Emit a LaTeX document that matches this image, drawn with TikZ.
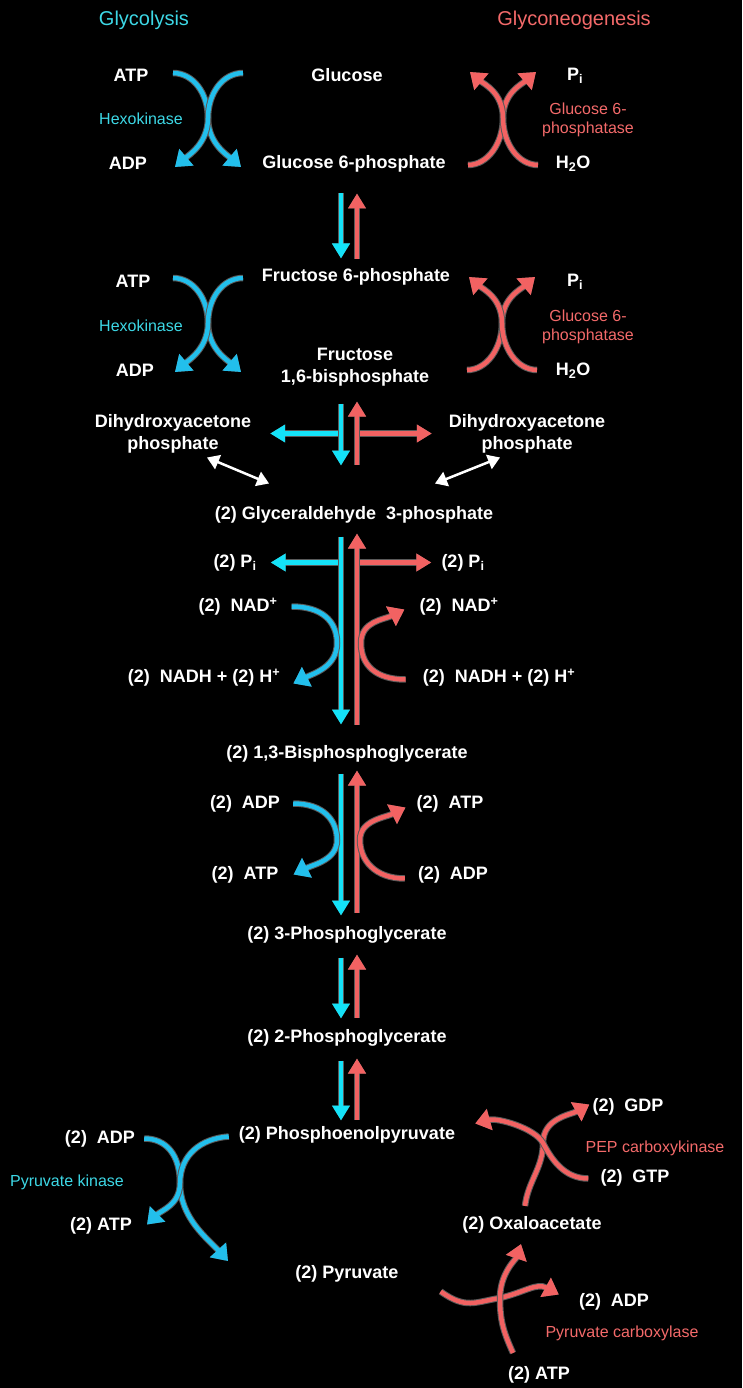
\documentclass[tikz,border=0pt]{standalone}
\usepackage{fontspec}
\setmainfont{Liberation Sans}
\usetikzlibrary{arrows.meta, calc, positioning}
\definecolor{glyc}{HTML}{3DD8E6}
\definecolor{neo}{HTML}{F46A6A}
\definecolor{glyline}{HTML}{14E2F8}
\definecolor{glyarcc}{HTML}{22BFEC}
\definecolor{neoline}{HTML}{F26262}
\tikzset{
  met/.style = {text=white, font=\bfseries\fontsize{18}{22}\selectfont, align=center, inner sep=1pt, yshift=-1.5pt},
  enzg/.style = {text=glyc, font=\fontsize{16}{18.5}\selectfont, align=center, inner sep=1pt},
  enzn/.style = {text=neo, font=\fontsize{16}{18.5}\selectfont, align=center, inner sep=1pt},
  ttl/.style = {font=\fontsize{20}{24}\selectfont, inner sep=1pt},
  halo/.style = {preaction={draw=white!35!black, line width=6.5pt}},
  glyarc/.style = {halo, draw=glyarcc, line width=4.5pt, -{Triangle[width=21pt,length=15pt]}},
  neoarc/.style = {halo, draw=neoline, line width=4.5pt, -{Triangle[width=21pt,length=15pt]}},
  glystem/.style = {halo, draw=glyline, line width=4.5pt, -{Triangle[width=17pt,length=15pt]}},
  neostem/.style = {halo, draw=neoline, line width=4.5pt, -{Triangle[width=17pt,length=15pt]}},
  iso/.style = {draw=white, line width=2.5pt, {Triangle[width=15pt,length=12pt]}-{Triangle[width=15pt,length=12pt]}}
}

\begin{document}
\begin{tikzpicture}[x=1pt, y=-1pt]
  \fill[black] (0,0) rectangle (742,1388);
  \useasboundingbox (0,0) rectangle (742,1388);

  \node[ttl, text=glyc] (glycolysis) at (144,20) {Glycolysis};
  \node[ttl, text=neo] (gneo) at (574,20) {Glyconeogenesis};

  % main column
  \path (347,74) node[met] (glc) {Glucose}
      ++(7,88) node[met] (g6p) {Glucose 6-phosphate}
      ++(2,113) node[met] (f6p) {Fructose 6-phosphate}
      ++(-1,91) node[met] (fbp) {Fructose\\1,6-bisphosphate}
      ++(-1,147) node[met] (gap) {(2) Glyceraldehyde\ \ 3-phosphate}
      ++(-7,239) node[met] (bpg) {(2) 1,3-Bisphosphoglycerate}
      ++(0,181) node[met] (pga3) {(2) 3-Phosphoglycerate}
      ++(0,103) node[met] (pga2) {(2) 2-Phosphoglycerate}
      ++(0,97) node[met] (pep) {(2) Phosphoenolpyruvate}
      ++(0,139) node[met] (pyr) {(2) Pyruvate};

  % cofactors
  \node[met] (atp1) at (131,74) {ATP};
  \node[met] (adp1) at (128,162) {ADP};
  \node[met] (pi1) at (575,74) {P\textsubscript{i}};
  \node[met] (hwo1) at (573,162) {H\textsubscript{2}O};
  \node[enzg] (hk1) at (141,119) {Hexokinase};
  \node[enzn] (gpase1) at (588,120) {Glucose 6-\\phosphatase};

  \node[met] (atp2) at (133,280) {ATP};
  \node[met] (adp2) at (135,369) {ADP};
  \node[met] (pi2) at (575,280) {P\textsubscript{i}};
  \node[met] (hwo2) at (573,369) {H\textsubscript{2}O};
  \node[enzg] (hk2) at (141,326) {Hexokinase};
  \node[enzn] (gpase2) at (588,327) {Glucose 6-\\phosphatase};

  \node[met] (dhapl) at (173,432) {Dihydroxyacetone\\phosphate};
  \node[met] (dhapr) at (527,432) {Dihydroxyacetone\\phosphate};

  \node[met] (pil) at (235,561) {(2) P\textsubscript{i}};
  \node[met] (pir) at (463,561) {(2) P\textsubscript{i}};
  \node[met] (nadl) at (238,605) {(2)\ \ NAD\textsuperscript{+}};
  \node[met] (nadr) at (459,605) {(2)\ \ NAD\textsuperscript{+}};
  \node[met] (nadhl) at (204,676) {(2)\ \ NADH + (2) H\textsuperscript{+}};
  \node[met] (nadhr) at (499,676) {(2)\ \ NADH + (2) H\textsuperscript{+}};

  \node[met] (adpl) at (245,802) {(2)\ \ ADP};
  \node[met] (atpl) at (245,873) {(2)\ \ ATP};
  \node[met] (atpr) at (450,802) {(2)\ \ ATP};
  \node[met] (adpr) at (453,873) {(2)\ \ ADP};

  \node[met] (adp5) at (100,1137) {(2)\ \ ADP};
  \node[enzg] (pk) at (67,1182) {Pyruvate kinase};
  \node[met] (atp5) at (101,1224) {(2) ATP};

  \node[met] (gdp) at (628,1105) {(2)\ \ GDP};
  \node[enzn] (pepck) at (655,1148) {PEP carboxykinase};
  \node[met] (gtp) at (635,1176) {(2)\ \ GTP};
  \node[met] (oaa) at (532,1223) {(2) Oxaloacetate};
  \node[met] (adp6) at (614,1300) {(2)\ \ ADP};
  \node[enzn] (pc) at (622,1333) {Pyruvate carboxylase};
  \node[met] (atp6) at (539,1373) {(2) ATP};

  % crossing points
  \coordinate (cx) at (341,0);
  \coordinate (rx) at (357,0);
  \coordinate (hkx1) at (208,118);
  \coordinate (hkx2) at (208,323);
  \coordinate (gpx1) at (503,118);
  \coordinate (gpx2) at (502,323);
  \coordinate (nadx) at (337,643);
  \coordinate (nadrx) at (361,643);
  \coordinate (adpx) at (337,840);
  \coordinate (adprx) at (360,840);
  \coordinate (pkx) at (180,1183);
  \coordinate (pckx) at (543,1143);
  \coordinate (pcx) at (500,1298);

  % straight steps
  \draw[glystem, shorten <=30pt, shorten >=18pt] (g6p -| cx) -- (f6p -| cx);
  \draw[neostem, shorten <=18pt, shorten >=30pt] (f6p -| rx) -- (g6p -| rx);

  \draw[glystem, shorten >=18pt] (dhapl -| cx) -- (dhapl.east);
  \draw[neostem, shorten >=16pt] (dhapr -| rx) -- (dhapr.west);
  \draw[glystem, shorten <=36pt, shorten >=49pt] (fbp -| cx) -- (gap -| cx);
  \draw[neostem, shorten <=50pt, shorten >=34pt] (gap -| rx) -- (fbp -| rx);

  \draw[glystem, shorten >=13pt] (pil -| cx) -- (pil.east);
  \draw[neostem, shorten >=9pt] (pir -| rx) -- (pir.west);
  \draw[glystem, shorten <=22pt, shorten >=29pt] (gap -| cx) -- (bpg -| cx);
  \draw[neostem, shorten <=29pt, shorten >=19pt] (bpg -| rx) -- (gap -| rx);

  \draw[glystem, shorten <=20pt, shorten >=19pt] (bpg -| cx) -- (pga3 -| cx);
  \draw[neostem, shorten <=22pt, shorten >=17pt] (pga3 -| rx) -- (bpg -| rx);
  \draw[glystem, shorten <=23pt, shorten >=19pt] (pga3 -| cx) -- (pga2 -| cx);
  \draw[neostem, shorten <=20pt, shorten >=20pt] (pga2 -| rx) -- (pga3 -| rx);
  \draw[glystem, shorten <=23pt, shorten >=14pt] (pga2 -| cx) -- (pep -| cx);
  \draw[neostem, shorten <=15pt, shorten >=21pt] (pep -| rx) -- (pga2 -| rx);

  % hexokinase / phosphatase crosses
  \foreach \c in {hkx1, hkx2} {
    \draw[glyarc] ($(\c)+(-35,-45)$) .. controls +(20,0) and +(0,-25) .. (\c) .. controls +(0,25) and +(-14,-12) .. ($(\c)+(33,49)$);
    \draw[glyarc] ($(\c)+(35,-45)$) .. controls +(-20,0) and +(0,-25) .. (\c) .. controls +(0,25) and +(14,-12) .. ($(\c)+(-33,49)$);
  }
  \foreach \c in {gpx1, gpx2} {
    \draw[neoarc] ($(\c)+(-35,47)$) .. controls +(20,0) and +(0,25) .. (\c) .. controls +(0,-25) and +(-14,12) .. ($(\c)+(33,-46)$);
    \draw[neoarc] ($(\c)+(35,47)$) .. controls +(-20,0) and +(0,25) .. (\c) .. controls +(0,-25) and +(14,12) .. ($(\c)+(-33,-46)$);
  }

  % triose phosphate isomerase
  \draw[iso] ($(dhapl)+(34,24)$) -- ($(gap)+(-85,-31)$);
  \draw[iso] ($(gap)+(81,-31)$) -- ($(dhapr)+(-27,24)$);

  % NAD and ADP side arcs
  \draw[glyarc] ($(nadl.east)+(13,0)$) .. controls +(30,0) and +(0,-22) .. (nadx) .. controls +(0,24) and +(20,-10) .. ($(nadhl.east)+(12,6)$);
  \draw[neoarc] ($(nadhr.west)+(-16,2)$) .. controls +(-30,0) and +(0,22) .. (nadrx) .. controls +(0,-22) and +(-20,10) .. ($(nadr.west)+(-14,3)$);
  \draw[glyarc] ($(adpl.east)+(12,0)$) .. controls +(30,0) and +(0,-20) .. (adpx) .. controls +(0,20) and +(20,-10) .. ($(atpl.east)+(14,0)$);
  \draw[neoarc] ($(adpr.west)+(-12,4)$) .. controls +(-30,0) and +(0,20) .. (adprx) .. controls +(0,-20) and +(-20,10) .. ($(atpr.west)+(-10,4)$);

  % pyruvate kinase
  \draw[glyarc] ($(adp5.east)+(8,0)$) .. controls +(22,0) and +(0,-28) .. (pkx) .. controls +(0,35) and +(-20,-22) .. ($(pkx)+(48,78)$);
  \draw[glyarc] ($(pep.west)+(-9,2)$) .. controls +(-28,2) and +(0,-28) .. (pkx) .. controls +(0,22) and +(14,-14) .. ($(atp5.east)+(14,-1)$);

  % PEP carboxykinase and pyruvate carboxylase
  \draw[neoarc] ($(oaa.north)+(-7,-9)$) .. controls +(3,-25) and +(0,25) .. (pckx) .. controls +(0,-25) and +(-18,10) .. ($(gdp.west)+(-2,-2)$);
  \draw[neoarc] ($(gtp.west)+(-11,1)$) .. controls +(-25,0) and +(8,15) .. (pckx) .. controls +(-8,-15) and +(22,-6) .. ($(pep.east)+(19,-11)$);
  \draw[neoarc] ($(pyr.east)+(41,18)$) .. controls +(25,18) and +(-25,4) .. (pcx) .. controls +(25,-6) and +(-22,-12) .. ($(adp6.west)+(-19,-7)$);
  \draw[neoarc] ($(atp6.north)+(-26,-12)$) .. controls +(-10,-22) and +(0,22) .. (pcx) .. controls +(0,-25) and +(-5,15) .. ($(oaa.south)+(-11,10)$);
\end{tikzpicture}
\end{document}
